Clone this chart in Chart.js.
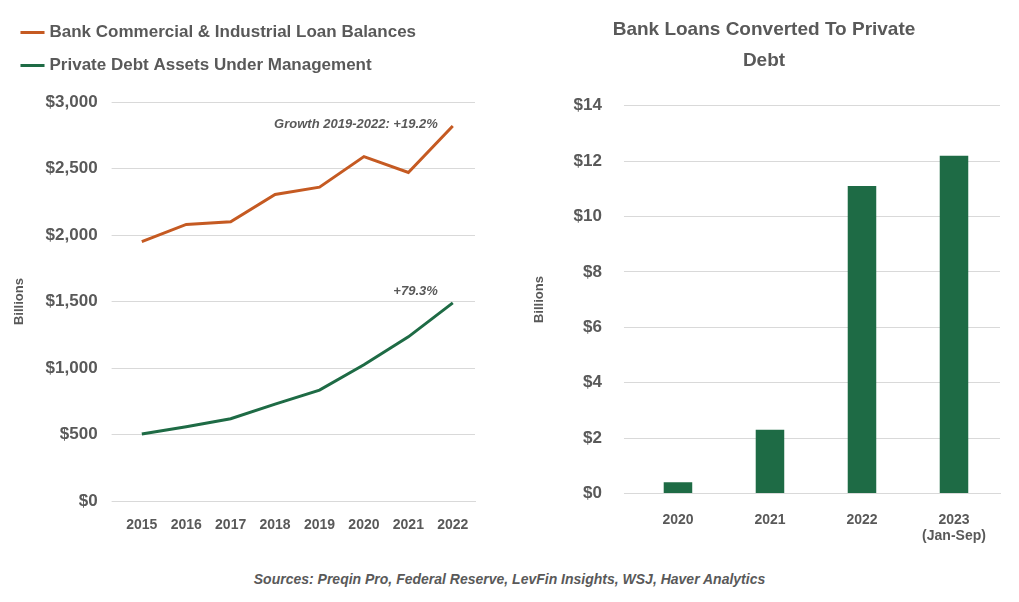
<!DOCTYPE html>
<html>
<head>
<meta charset="utf-8">
<script src="https://cdn.jsdelivr.net/npm/chart.js@4"></script>
<style>
  body { margin: 0; background: #fff; width: 1019px; height: 602px; position: relative; overflow: hidden; }
  #left { position: absolute; left: 0; top: 0; width: 485px; height: 542px; }
  #right { position: absolute; left: 520px; top: 0; width: 490px; height: 555px; }
  #src { position: absolute; left: 0; width: 1019px; top: 571px; text-align: center;
         font: italic bold 14px "Liberation Sans", sans-serif; color: #595959; }
</style>
</head>
<body>
<div id="left"><canvas id="lineChart"></canvas></div>
<div id="right"><canvas id="barChart"></canvas></div>
<div id="src">Sources: Preqin Pro, Federal Reserve, LevFin Insights, WSJ, Haver Analytics</div>
<script>
var years = ['2015', '2016', '2017', '2018', '2019', '2020', '2021', '2022'];
var bankLoans = [1950, 2080, 2100, 2305, 2360, 2590, 2470, 2820];
var privateDebt = [505, 560, 620, 730, 835, 1025, 1235, 1490];
var barLabels = ['2020', '2021', '2022', ['2023', '(Jan-Sep)']];
var converted = [0.4, 2.3, 11.1, 12.2];

var grey = '#595959';
var orange = '#C55A22';
var green = '#1E6B45';
var font = 'Liberation Sans';
Chart.defaults.font.family = font;
Chart.defaults.color = grey;

// draws the growth notes next to the last points
var notes = {
    id: 'notes',
    afterDatasetsDraw: function(chart) {
        var ctx = chart.ctx;
        var x = chart.scales.x, y = chart.scales.y;
        ctx.save();
        ctx.font = 'italic bold 13px ' + font;
        ctx.fillStyle = grey;
        ctx.textAlign = 'right';
        ctx.fillText('Growth 2019-2022: +19.2%', x.getPixelForValue(7) - 15, y.getPixelForValue(2820) - 2);
        ctx.fillText('+79.3%', x.getPixelForValue(7) - 15, y.getPixelForValue(1490) - 12);
        ctx.restore();
    }
};

// extra room under the legend
var legendGap = {
    id: 'legendGap',
    beforeInit: function(chart) {
        var fit = chart.legend.fit;
        chart.legend.fit = function() {
            fit.bind(chart.legend)();
            this.height += 18;
        };
    }
};

new Chart(document.getElementById('lineChart'), {
    type: 'line',
    data: {
        labels: years,
        datasets: [
            { label: 'Bank Commercial & Industrial Loan Balances', data: bankLoans,
              borderColor: orange, backgroundColor: orange, borderWidth: 3, pointRadius: 0, tension: 0 },
            { label: 'Private Debt Assets Under Management', data: privateDebt,
              borderColor: green, backgroundColor: green, borderWidth: 3, pointRadius: 0, tension: 0 }
        ]
    },
    options: {
        responsive: true, maintainAspectRatio: false, animation: false,
        layout: { padding: { left: 8, right: 10, top: 8 } },
        plugins: {
            legend: {
                position: 'top', align: 'start',
                labels: { usePointStyle: true, pointStyle: 'line', boxWidth: 30, padding: 16,
                          font: { size: 17, weight: 'bold' }, color: grey }
            },
            tooltip: { enabled: false }
        },
        scales: {
            x: { offset: true, grid: { display: false }, border: { color: '#d9d9d9' },
                 ticks: { font: { size: 14, weight: 'bold' }, color: grey, padding: 8 } },
            y: { min: 0, max: 3000,
                 ticks: { stepSize: 500, font: { size: 17, weight: 'bold' }, color: grey, padding: 14,
                          callback: function(v) { return '$' + v.toLocaleString('en-US'); } },
                 grid: { color: '#d9d9d9' }, border: { display: false },
                 title: { display: true, text: 'Billions', font: { size: 13, weight: 'bold' }, color: grey } }
        }
    },
    plugins: [notes, legendGap]
});

new Chart(document.getElementById('barChart'), {
    type: 'bar',
    data: {
        labels: barLabels,
        datasets: [{ data: converted, backgroundColor: green, barPercentage: 0.31, categoryPercentage: 1 }]
    },
    options: {
        responsive: true, maintainAspectRatio: false, animation: false,
        layout: { padding: { right: 10, top: 5, left: 8 } },
        plugins: {
            legend: { display: false },
            tooltip: { enabled: false },
            title: { display: true, text: ['Bank Loans Converted To Private', 'Debt'],
                     font: { size: 19, weight: 'bold', lineHeight: 1.6 }, color: grey,
                     padding: { top: 10, bottom: 30 } }
        },
        scales: {
            x: { grid: { display: false }, border: { color: '#d9d9d9' },
                 ticks: { font: { size: 14, weight: 'bold' }, color: grey, padding: 10 } },
            y: { min: 0, max: 14,
                 ticks: { stepSize: 2, font: { size: 17, weight: 'bold' }, color: grey, padding: 22,
                          callback: function(v) { return '$' + v; } },
                 grid: { color: '#d9d9d9' }, border: { display: false },
                 title: { display: true, text: 'Billions', font: { size: 13, weight: 'bold' }, color: grey } }
        }
    }
});
</script>
</body>
</html>
